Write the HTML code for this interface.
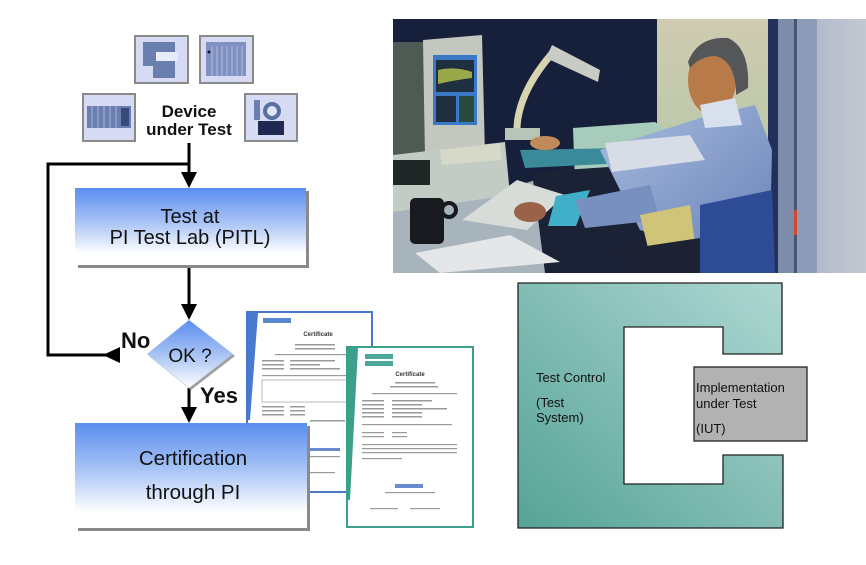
<!DOCTYPE html>
<html><head><meta charset="utf-8"><style>
html,body{margin:0;padding:0;background:#fff;}
svg{display:block;}
text{font-family:"Liberation Sans",Arial,sans-serif;}
</style></head><body>
<svg width="866" height="565" viewBox="0 0 866 565" xmlns="http://www.w3.org/2000/svg">
<defs>
<linearGradient id="bg" x1="0" y1="0" x2="0" y2="1">
<stop offset="0" stop-color="#5a8ef0"/><stop offset="0.45" stop-color="#a9c4f5"/><stop offset="0.85" stop-color="#ffffff"/><stop offset="1" stop-color="#ffffff"/>
</linearGradient>
<linearGradient id="dg" x1="0" y1="0" x2="0" y2="1">
<stop offset="0" stop-color="#5a8ef0"/><stop offset="0.5" stop-color="#a6c1f3"/><stop offset="1" stop-color="#ffffff"/>
</linearGradient>
<linearGradient id="teal" x1="0" y1="1" x2="1" y2="0">
<stop offset="0" stop-color="#56a396"/><stop offset="1" stop-color="#aed7d2"/>
</linearGradient>
<linearGradient id="wall" x1="0" y1="0" x2="0" y2="1">
<stop offset="0" stop-color="#cfcbb0"/><stop offset="0.6" stop-color="#b8c8a8"/><stop offset="1" stop-color="#98b8a0"/>
</linearGradient>
<linearGradient id="rack" x1="0" y1="0" x2="1" y2="0">
<stop offset="0" stop-color="#98a4bc"/><stop offset="0.5" stop-color="#b4bccc"/><stop offset="1" stop-color="#c4c8d2"/>
</linearGradient>
<linearGradient id="shirt" x1="0" y1="0" x2="1" y2="1">
<stop offset="0" stop-color="#a8bce0"/><stop offset="1" stop-color="#6a84b8"/>
</linearGradient>
</defs>

<!-- Icons -->
<g>
<rect x="135" y="36" width="53" height="47" fill="#d6daf3" stroke="#8a8a8a" stroke-width="2"/>
<rect x="143" y="42" width="32" height="36" fill="#6a7fb0"/>
<rect x="156" y="52" width="22" height="9" fill="#e8ecf8"/>
<rect x="143" y="66" width="10" height="12" fill="#d6daf3"/>
<rect x="200" y="36" width="53" height="47" fill="#d6daf3" stroke="#8a8a8a" stroke-width="2"/>
<rect x="206" y="42" width="40" height="34" fill="#8090c0"/>
<g stroke="#b0bce0" stroke-width="1"><line x1="212" y1="46" x2="212" y2="76"/><line x1="217" y1="46" x2="217" y2="76"/><line x1="222" y1="46" x2="222" y2="76"/><line x1="227" y1="46" x2="227" y2="76"/><line x1="232" y1="46" x2="232" y2="76"/><line x1="237" y1="46" x2="237" y2="76"/><line x1="242" y1="46" x2="242" y2="76"/></g>
<circle cx="209" cy="52" r="1.5" fill="#101830"/>
<rect x="83" y="94" width="52" height="47" fill="#d6daf3" stroke="#8a8a8a" stroke-width="2"/>
<rect x="87" y="106" width="44" height="22" fill="#6a7fb0"/>
<g stroke="#aab6dc" stroke-width="1"><line x1="92" y1="106" x2="92" y2="128"/><line x1="98" y1="106" x2="98" y2="128"/><line x1="104" y1="106" x2="104" y2="128"/><line x1="110" y1="106" x2="110" y2="128"/><line x1="116" y1="106" x2="116" y2="128"/></g>
<rect x="121" y="108" width="8" height="18" fill="#3a4a78"/>
<rect x="245" y="94" width="52" height="47" fill="#d6daf3" stroke="#8a8a8a" stroke-width="2"/>
<circle cx="272" cy="111" r="9" fill="#5a6ea0"/><circle cx="272" cy="111" r="5" fill="#e0e4f4"/>
<rect x="258" y="121" width="26" height="14" fill="#1e2850"/>
<rect x="254" y="100" width="6" height="20" fill="#6a7fb0"/>
</g>
<text x="189" y="117" font-size="17" font-weight="bold" text-anchor="middle" fill="#111">Device</text>
<text x="189" y="135" font-size="17" font-weight="bold" text-anchor="middle" fill="#111">under Test</text>

<!-- Connectors -->
<g stroke="#000" stroke-width="3" fill="none">
<line x1="189" y1="143" x2="189" y2="175"/>
<polyline points="190,164 48,164 48,355 110,355"/>
<line x1="189" y1="265" x2="189" y2="307"/>
<line x1="189" y1="388" x2="189" y2="410"/>
</g>
<g fill="#000">
<polygon points="181,172 197,172 189,188"/>
<polygon points="181,304 197,304 189,320"/>
<polygon points="181,407 197,407 189,423"/>
<polygon points="120,347 120,363 103,355"/>
</g>

<!-- Test box -->
<rect x="78" y="191" width="231" height="77" fill="#8a8a8a"/>
<rect x="75" y="188" width="231" height="77" fill="url(#bg)"/>
<text x="190" y="223" font-size="20" text-anchor="middle" fill="#111">Test at</text>
<text x="190" y="244" font-size="20" text-anchor="middle" fill="#111">PI Test Lab (PITL)</text>

<!-- Diamond -->
<polygon points="191,322 235,356 191,390 149,356" fill="#a0a0a0"/>
<polygon points="189,320 233,354 189,388 147,354" fill="url(#dg)"/>
<text x="190" y="362" font-size="19" text-anchor="middle" fill="#111">OK ?</text>
<text x="121" y="348" font-size="22" font-weight="bold" fill="#111">No</text>
<text x="200" y="403" font-size="22" font-weight="bold" fill="#111">Yes</text>

<!-- Blue certificate -->
<g>
<rect x="247" y="312" width="125" height="180" fill="#fff" stroke="#4a78c8" stroke-width="2"/>
<polygon points="248,313 258,313 250,420 248,420" fill="#4a7ad0"/>
<rect x="263" y="318" width="28" height="5" fill="#5a86d0"/>
<text x="318" y="336" font-size="6" font-weight="bold" text-anchor="middle" fill="#333">Certificate</text>
<g fill="#9a9a9a">
<rect x="295" y="344" width="40" height="1.5"/><rect x="295" y="348" width="40" height="1.5"/>
<rect x="275" y="354" width="80" height="1.2"/>
<rect x="262" y="360" width="22" height="1.5"/><rect x="290" y="360" width="45" height="1.5"/>
<rect x="262" y="364" width="22" height="1.5"/><rect x="290" y="364" width="30" height="1.5"/>
<rect x="262" y="368" width="22" height="1.5"/><rect x="290" y="368" width="50" height="1.5"/>
<rect x="262" y="375" width="85" height="1.2"/>
<rect x="262" y="380" width="85" height="22" fill="none" stroke="#aaa" stroke-width="0.8"/>
<rect x="262" y="406" width="22" height="1.5"/><rect x="290" y="406" width="15" height="1.5"/>
<rect x="262" y="410" width="22" height="1.5"/><rect x="290" y="410" width="15" height="1.5"/>
<rect x="262" y="414" width="22" height="1.5"/><rect x="290" y="414" width="15" height="1.5"/>
<rect x="310" y="420" width="35" height="1.5"/>
<rect x="310" y="448" width="30" height="3" fill="#6a8ad0"/>
<rect x="300" y="456" width="40" height="1.2"/>
<rect x="305" y="472" width="30" height="1.2"/>
</g>
</g>

<!-- Green certificate -->
<g>
<rect x="347" y="347" width="126" height="180" fill="#fff" stroke="#3aa08c" stroke-width="2"/>
<polygon points="348,348 358,348 350,500 348,500" fill="#3aa08c"/>
<rect x="365" y="354" width="28" height="5" fill="#4aa898"/>
<rect x="365" y="361" width="28" height="5" fill="#4aa898"/>
<text x="410" y="376" font-size="6" font-weight="bold" text-anchor="middle" fill="#333">Certificate</text>
<g fill="#9a9a9a">
<rect x="395" y="382" width="40" height="1.5"/><rect x="390" y="386" width="48" height="1.5"/>
<rect x="372" y="393" width="85" height="1.2"/>
<rect x="362" y="400" width="22" height="1.5"/><rect x="392" y="400" width="40" height="1.5"/>
<rect x="362" y="404" width="22" height="1.5"/><rect x="392" y="404" width="30" height="1.5"/>
<rect x="362" y="408" width="22" height="1.5"/><rect x="392" y="408" width="55" height="1.5"/>
<rect x="362" y="412" width="22" height="1.5"/><rect x="392" y="412" width="30" height="1.5"/>
<rect x="362" y="416" width="22" height="1.5"/><rect x="392" y="416" width="30" height="1.5"/>
<rect x="362" y="424" width="90" height="1.2"/>
<rect x="362" y="432" width="22" height="1.2"/><rect x="392" y="432" width="15" height="1.2"/>
<rect x="362" y="436" width="22" height="1.2"/><rect x="392" y="436" width="15" height="1.2"/>
<rect x="362" y="444" width="95" height="1.2"/><rect x="362" y="448" width="95" height="1.2"/><rect x="362" y="452" width="95" height="1.2"/>
<rect x="362" y="458" width="40" height="1.2"/>
<rect x="395" y="484" width="28" height="4" fill="#6a8ad0"/>
<rect x="385" y="492" width="50" height="1.2"/>
<rect x="370" y="508" width="28" height="1.2"/><rect x="410" y="508" width="30" height="1.2"/>
</g>
</g>

<!-- Certification box -->
<rect x="78" y="426" width="232" height="105" fill="#8a8a8a"/>
<rect x="75" y="423" width="232" height="105" fill="url(#bg)"/>
<text x="193" y="465" font-size="20.5" text-anchor="middle" fill="#111">Certification</text>
<text x="193" y="499" font-size="20.5" text-anchor="middle" fill="#111">through PI</text>

<!-- Photo -->
<g>
<rect x="393" y="19" width="473" height="254" fill="#16203a"/>
<rect x="657" y="19" width="111" height="254" fill="url(#wall)"/>
<rect x="768" y="19" width="10" height="254" fill="#22305a"/>
<rect x="778" y="19" width="88" height="254" fill="url(#rack)"/>
<rect x="778" y="19" width="16" height="254" fill="#7e8cab"/>
<rect x="794" y="19" width="3" height="254" fill="#4a5470"/>
<rect x="794" y="210" width="3" height="25" fill="#d04a30"/>
<rect x="797" y="19" width="20" height="254" fill="#8e9cba"/>
<!-- green machine -->
<polygon points="573,128 655,122 692,148 692,178 575,182" fill="#a8ccbc"/>
<!-- desk lower left -->
<polygon points="393,205 480,198 560,172 610,170 610,273 393,273" fill="#a8b4bc"/>
<!-- monitor -->
<rect x="393" y="42" width="32" height="115" fill="#4e5a54"/>
<polygon points="423,40 482,35 485,155 425,158" fill="#c4c6c0"/>
<rect x="433" y="55" width="44" height="70" fill="#3a78c8"/>
<rect x="436" y="60" width="38" height="32" fill="#1e3040"/>
<path d="M438,70 Q455,66 472,72 L472,78 Q455,80 438,84 Z" fill="#9aa84a"/>
<rect x="436" y="96" width="20" height="26" fill="#1e3040"/>
<rect x="459" y="96" width="15" height="26" fill="#2a4a40"/>
<!-- cpu stacks -->
<polygon points="393,155 505,142 510,195 393,212" fill="#c2ccc4"/>
<rect x="393" y="160" width="37" height="25" fill="#1e2626"/>
<polygon points="440,150 500,143 502,160 442,165" fill="#d6d8c8"/>
<!-- lamp -->
<path d="M517,135 Q515,95 555,50" stroke="#d8d4b0" stroke-width="7" fill="none"/>
<polygon points="552,45 600,70 598,82 546,58" fill="#c8ccc4"/>
<rect x="505" y="128" width="35" height="12" fill="#b8c4b8"/>
<!-- mouse area -->
<polygon points="520,150 620,148 625,163 525,168" fill="#3a8a9a"/>
<!-- dark under desk -->
<polygon points="532,172 640,165 705,200 705,273 545,273" fill="#1c2236"/>
<!-- keyboard -->
<polygon points="462,220 517,180 565,195 527,230" fill="#d8dcd8"/>
<polygon points="556,196 590,190 576,226 548,226" fill="#40b0c8"/>
<!-- man -->
<polygon points="600,150 700,118 755,105 772,150 770,240 700,250 640,230" fill="url(#shirt)"/>
<polygon points="605,143 690,135 705,160 612,172" fill="#d8dce6"/>
<polygon points="575,200 650,185 660,220 585,228" fill="#7890c0"/>
<polygon points="640,215 690,205 695,245 648,248" fill="#d0c478"/>
<polygon points="620,250 700,238 720,273 640,273" fill="#1c2232"/>
<polygon points="700,205 772,190 775,273 700,273" fill="#2e4c96"/>
<ellipse cx="712" cy="80" rx="24" ry="35" fill="#b87a48"/>
<path d="M688,62 Q698,36 728,38 Q750,48 748,88 L736,95 Q736,62 716,56 Q700,56 690,68 Z" fill="#555658"/>
<polygon points="700,105 735,98 742,125 705,128" fill="#d8e0ee"/>
<ellipse cx="545" cy="143" rx="15" ry="7" fill="#c08a5a"/>
<ellipse cx="530" cy="212" rx="16" ry="10" fill="#9a6248"/>
<!-- mug -->
<rect x="410" y="198" width="34" height="46" rx="5" fill="#181a20"/>
<circle cx="449" cy="210" r="7" fill="none" stroke="#181a20" stroke-width="4"/>
<!-- paper -->
<polygon points="415,253 510,235 560,262 440,273" fill="#e4e6e8"/>
</g>

<!-- Test Control C-shape -->
<polygon points="518,283 782,283 782,354 723,354 723,327 624,327 624,484 723,484 723,455 783,455 783,528 518,528" fill="url(#teal)" stroke="#222" stroke-width="1.3"/>
<text x="536" y="382" font-size="13" fill="#111">Test Control</text>
<text x="536" y="407" font-size="13" fill="#111">(Test</text>
<text x="536" y="422" font-size="13" fill="#111">System)</text>
<rect x="694" y="367" width="113" height="74" fill="#b2b2b2" stroke="#222" stroke-width="1.3"/>
<text x="696" y="392" font-size="13" fill="#111">Implementation</text>
<text x="696" y="408" font-size="13" fill="#111">under Test</text>
<text x="696" y="433" font-size="13" fill="#111">(IUT)</text>
</svg>
</body></html>
